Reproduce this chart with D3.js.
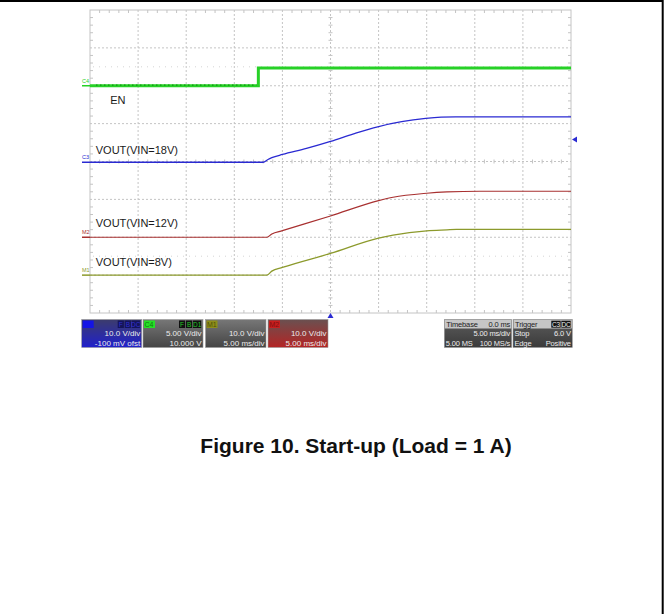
<!DOCTYPE html>
<html>
<head>
<meta charset="utf-8">
<script src="https://cdn.jsdelivr.net/npm/d3@7"></script>
<style>
body { margin: 0; background: #fff; }
svg { display: block; }
</style>
</head>
<body>
<div id="vis"></div>
<script>
// scope screen: 10 x 8 divisions, 5 ms/div, trigger at the centre
const TIME_DOMAIN = [-25, 25];   // ms
const DIV_DOMAIN = [-4, 4];      // vertical divisions

// EN  (C4, 5 V/div)
const EN_T = [-25, -7.5, -7.5, 25];
const EN_V = [0, 0, 2.35, 2.35];

// VOUT with VIN = 18 V  (C3, 10 V/div)
const V18_T = [-25, -7.0, -6.5, -6.1, -5.0, -2.5, 0, 2.4, 4.9, 7.4, 9.9, 11.5, 13.0, 25];
const V18_V = [0, 0, 0.74, 1.2, 2.05, 3.64, 5.49, 7.5, 9.37, 10.7, 11.56, 11.9, 12.0, 12.0];

// VOUT with VIN = 12 V  (M2, 10 V/div)
const V12_T = [-25, -6.6, -6.1, -5.0, 0, 5.0, 6.5, 10.0, 12.1, 15.5, 25];
const V12_V = [0, 0, 0.87, 1.74, 5.62, 9.66, 10.56, 11.62, 11.96, 12.15, 12.15];

// VOUT with VIN = 8 V  (M1, 10 V/div)
const V8_T = [-25, -6.6, -6.1, -5.0, 0, 5.0, 6.5, 10.0, 12.1, 13.1, 25];
const V8_V = [0, 0, 1.06, 2.03, 5.73, 9.77, 10.56, 11.7, 11.96, 12.07, 12.07];

const TRACE_NAMES = ["EN", "VOUT(VIN=18V)", "VOUT(VIN=12V)", "VOUT(VIN=8V)"];
const TRACE_TAGS = ["C4", "C3", "M2", "M1"];
const TRACE_VDIV = [5, 10, 10, 10];      // V/div
const TRACE_ZERO = [2, -0.02, -2, -3];   // division where 0 V sits
const TRIGGER_LEVEL = 6.0;               // V on C3

const CAPTION = "Figure 10. Start-up (Load = 1 A)";

// frame
const WIDTH = 669, HEIGHT = 614;
const PLOT = {left: 90, right: 571, top: 10, bottom: 313};
const COLORS = ["#27d127", "#2a2ad2", "#a83030", "#8c9a2c"];
const WIDTHS = [3, 1.3, 1.2, 1.3];
const FONT = "Arial, 'Liberation Sans', sans-serif";

const svg = d3.select("#vis").append("svg")
  .attr("width", WIDTH).attr("height", HEIGHT);

svg.append("rect").attr("width", WIDTH).attr("height", HEIGHT).attr("fill", "#fff");
// page frame
svg.append("line").attr("x1", 0).attr("x2", 663).attr("y1", 1).attr("y2", 1)
  .attr("stroke", "#000").attr("stroke-width", 2);
svg.append("line").attr("x1", 662.7).attr("x2", 662.7).attr("y1", 0).attr("y2", HEIGHT)
  .attr("stroke", "#000").attr("stroke-width", 2);

const x = d3.scaleLinear().domain(TIME_DOMAIN).range([PLOT.left, PLOT.right]);
const y = d3.scaleLinear().domain(DIV_DOMAIN).range([PLOT.bottom, PLOT.top]);

// graticule
const grid = svg.append("g").attr("stroke", "#c4c4c4").attr("fill", "none");
const xDivs = d3.range(TIME_DOMAIN[0] + 5, TIME_DOMAIN[1], 5);
const yDivs = d3.range(DIV_DOMAIN[0] + 1, DIV_DOMAIN[1], 1);
grid.selectAll(".vl").data(xDivs).join("line")
  .attr("x1", d => x(d)).attr("x2", d => x(d))
  .attr("y1", PLOT.top).attr("y2", PLOT.bottom)
  .attr("stroke-dasharray", "2,2");
grid.selectAll(".hl").data(yDivs).join("line")
  .attr("y1", d => y(d)).attr("y2", d => y(d))
  .attr("x1", PLOT.left).attr("x2", PLOT.right)
  .attr("stroke-dasharray", "2,2");
// faint half-division rows
grid.selectAll(".half").data([2.5, -2.5]).join("line")
  .attr("y1", d => y(d)).attr("y2", d => y(d))
  .attr("x1", PLOT.left + 3).attr("x2", PLOT.right - 3)
  .attr("stroke", "#d4d4d4").attr("stroke-dasharray", "1,5");
grid.append("rect")
  .attr("x", PLOT.left).attr("y", PLOT.top)
  .attr("width", PLOT.right - PLOT.left).attr("height", PLOT.bottom - PLOT.top);

// minor ticks on centre lines and borders
const xMinor = d3.range(TIME_DOMAIN[0] + 1, TIME_DOMAIN[1], 1).filter(d => d % 5 !== 0);
const yMinor = d3.range(DIV_DOMAIN[0] + 0.2, DIV_DOMAIN[1] - 0.1, 0.2)
  .filter(d => Math.abs(d - Math.round(d)) > 0.05);
grid.selectAll(".tx").data(xMinor).join("line")
  .attr("x1", d => x(d)).attr("x2", d => x(d))
  .attr("y1", y(0) - 2).attr("y2", y(0) + 2);
grid.selectAll(".ty").data(yMinor).join("line")
  .attr("y1", d => y(d)).attr("y2", d => y(d))
  .attr("x1", x(0) - 2).attr("x2", x(0) + 2);
grid.selectAll(".txt").data(xMinor).join("line")
  .attr("x1", d => x(d)).attr("x2", d => x(d))
  .attr("y1", PLOT.top).attr("y2", PLOT.top + 3);
grid.selectAll(".txb").data(xMinor).join("line")
  .attr("x1", d => x(d)).attr("x2", d => x(d))
  .attr("y1", PLOT.bottom - 3).attr("y2", PLOT.bottom);
grid.selectAll(".tyl").data(yMinor).join("line")
  .attr("y1", d => y(d)).attr("y2", d => y(d))
  .attr("x1", PLOT.left).attr("x2", PLOT.left + 3);
grid.selectAll(".tyr").data(yMinor).join("line")
  .attr("y1", d => y(d)).attr("y2", d => y(d))
  .attr("x1", PLOT.right - 3).attr("x2", PLOT.right);

// traces
const traces = [[EN_T, EN_V], [V18_T, V18_V], [V12_T, V12_V], [V8_T, V8_V]];
traces.forEach(([ts, vs], i) => {
  const pts = ts.map((t, j) => [t, TRACE_ZERO[i] + vs[j] / TRACE_VDIV[i]]);
  const line = d3.line()
    .x(d => x(d[0])).y(d => y(d[1]))
    .curve(i === 0 ? d3.curveLinear : d3.curveMonotoneX);
  svg.append("path").datum(pts)
    .attr("d", line).attr("fill", "none")
    .attr("stroke", COLORS[i]).attr("stroke-width", WIDTHS[i]);
  if (i === 0) {
    // noisy low level of EN
    svg.append("line")
      .attr("x1", x(ts[0]) + 6).attr("x2", x(ts[1]) - 2)
      .attr("y1", y(TRACE_ZERO[0]) - 0.6).attr("y2", y(TRACE_ZERO[0]) - 0.6)
      .attr("stroke", "#139313").attr("stroke-width", 1.2)
      .attr("stroke-dasharray", "1.5,2.5");
  }
  // channel marker on the left edge
  svg.append("line")
    .attr("x1", PLOT.left - 8).attr("x2", PLOT.left)
    .attr("y1", y(TRACE_ZERO[i])).attr("y2", y(TRACE_ZERO[i]))
    .attr("stroke", COLORS[i]).attr("stroke-width", 1.5);
  svg.append("text")
    .attr("x", PLOT.left - 8).attr("y", y(TRACE_ZERO[i]) - 3)
    .attr("font-family", FONT).attr("font-size", 5.5)
    .attr("fill", COLORS[i]).text(TRACE_TAGS[i]);
});

// trace labels
const LABEL_AT = [[-22.9, 1.52], [-24.4, 0.2], [-24.4, -1.73], [-24.4, -2.76]];
svg.selectAll(".lab").data(TRACE_NAMES).join("text")
  .attr("x", (d, i) => x(LABEL_AT[i][0]))
  .attr("y", (d, i) => y(LABEL_AT[i][1]))
  .attr("font-family", FONT).attr("font-size", 11).attr("fill", "#1a1a1a")
  .text(d => d);

// trigger markers
const trigY = y(TRACE_ZERO[1] + TRIGGER_LEVEL / TRACE_VDIV[1]);
svg.append("path")
  .attr("d", `M${PLOT.right + 1},${trigY} l5,-3 l0,6 z`)
  .attr("fill", COLORS[1]);
svg.append("path")
  .attr("d", `M${x(0)},${PLOT.bottom} l-3,5 l6,0 z`)
  .attr("fill", COLORS[1]);

// info bar
const defs = svg.append("defs");
function grad(id, top, bottom) {
  const g = defs.append("linearGradient").attr("id", id)
    .attr("x1", 0).attr("x2", 0).attr("y1", 0).attr("y2", 1);
  g.append("stop").attr("offset", "0%").attr("stop-color", top);
  g.append("stop").attr("offset", "100%").attr("stop-color", bottom);
}
grad("gBlue", "#3c3c6c", "#2020cc");
grad("gGrey", "#777", "#444");
grad("gRed", "#6a5050", "#b42424");
grad("gDark", "#5c5c5c", "#3a3a3a");

const BAR_TOP = 319.5, BAR_H = 28;
const BOXES = [
  {x: 81.7, w: 60, fill: "url(#gBlue)", chip: "C3", chipFill: "#1414e6", chipText: "#1414e6",
   tags: ["F", "B", "DC"], tagFill: "#14145a", tagText: "#3030d0",
   rows: ["10.0 V/div", "-100 mV ofst"]},
  {x: 143, w: 60, fill: "url(#gGrey)", chip: "C4", chipFill: "#26e026", chipText: "#0f7a0f",
   tags: ["F", "B", "D1"], tagFill: "#101010", tagText: "#26c826",
   rows: ["5.00 V/div", "10.000 V"]},
  {x: 205.5, w: 60.5, fill: "url(#gGrey)", chip: "M1", chipFill: "#8e8e1a", chipText: "#505008",
   tags: [], rows: ["10.0 V/div", "5.00 ms/div"]},
  {x: 268, w: 60, fill: "url(#gRed)", chip: "M2", chipFill: "#c81e1e", chipText: "#801010",
   tags: [], rows: ["10.0 V/div", "5.00 ms/div"]}
];
BOXES.forEach(b => {
  const g = svg.append("g").attr("font-family", FONT).attr("font-size", 8);
  g.append("rect").attr("x", b.x).attr("y", BAR_TOP).attr("width", b.w).attr("height", BAR_H)
    .attr("fill", b.fill).attr("stroke", "#9a9a9a").attr("stroke-width", 0.6);
  g.append("rect").attr("x", b.x + 1).attr("y", BAR_TOP + 1).attr("width", 11).attr("height", 7.5)
    .attr("fill", b.chipFill);
  g.append("text").attr("x", b.x + 1.5).attr("y", BAR_TOP + 7.5).attr("font-size", 7)
    .attr("fill", b.chipText).text(b.chip);
  let tx = b.x + b.w - 1;
  b.tags.slice().reverse().forEach(t => {
    const w = t.length > 1 ? 9 : 7;
    tx -= w;
    g.append("rect").attr("x", tx).attr("y", BAR_TOP + 1).attr("width", w - 0.8).attr("height", 7.5)
      .attr("fill", b.tagFill);
    g.append("text").attr("x", tx + (w - 0.8) / 2).attr("y", BAR_TOP + 7.3).attr("font-size", 6.5)
      .attr("text-anchor", "middle").attr("fill", b.tagText).text(t);
  });
  b.rows.forEach((r, k) => {
    g.append("text").attr("x", b.x + b.w - 1.5).attr("y", BAR_TOP + 16.5 + k * 9.5)
      .attr("text-anchor", "end").attr("fill", "#ececec").text(r);
  });
});

const STATUS = [
  {x: 444.3, w: 67.4, head: ["Timebase", "0.0 ms"], headTags: [],
   rows: [["", "5.00 ms/div"], ["5.00 MS", "100 MS/s"]]},
  {x: 513, w: 59.3, head: ["Trigger", ""], headTags: ["C3", "DC"],
   rows: [["Stop", "6.0 V"], ["Edge", "Positive"]]}
];
STATUS.forEach(b => {
  const g = svg.append("g").attr("font-family", FONT).attr("font-size", 7.5)
    .attr("letter-spacing", -0.15);
  g.append("rect").attr("x", b.x).attr("y", BAR_TOP).attr("width", b.w).attr("height", BAR_H)
    .attr("fill", "url(#gDark)").attr("stroke", "#9a9a9a").attr("stroke-width", 0.6);
  g.append("rect").attr("x", b.x + 0.5).attr("y", BAR_TOP + 0.5).attr("width", b.w - 1).attr("height", 8.5)
    .attr("fill", "#c6c6c6");
  g.append("text").attr("x", b.x + 2).attr("y", BAR_TOP + 7.5).attr("fill", "#222").text(b.head[0]);
  g.append("text").attr("x", b.x + b.w - 1.5).attr("y", BAR_TOP + 7.5).attr("text-anchor", "end")
    .attr("fill", "#222").text(b.head[1]);
  let tx = b.x + b.w - 1;
  b.headTags.slice().reverse().forEach(t => {
    tx -= 10;
    g.append("rect").attr("x", tx).attr("y", BAR_TOP + 1.2).attr("width", 9.4).attr("height", 7)
      .attr("fill", "#111");
    g.append("text").attr("x", tx + 4.7).attr("y", BAR_TOP + 7.3).attr("font-size", 6.5)
      .attr("text-anchor", "middle").attr("fill", "#eee").text(t);
  });
  b.rows.forEach((r, k) => {
    const yy = BAR_TOP + 16.5 + k * 9.5;
    g.append("text").attr("x", b.x + 1.5).attr("y", yy).attr("fill", "#ececec").text(r[0]);
    g.append("text").attr("x", b.x + b.w - 1.5).attr("y", yy).attr("text-anchor", "end")
      .attr("fill", "#ececec").text(r[1]);
  });
});

// caption
svg.append("text")
  .attr("x", 356).attr("y", 453)
  .attr("text-anchor", "middle")
  .attr("font-family", FONT).attr("font-weight", "bold").attr("font-size", 21)
  .attr("fill", "#111")
  .text(CAPTION);
</script>
</body>
</html>
